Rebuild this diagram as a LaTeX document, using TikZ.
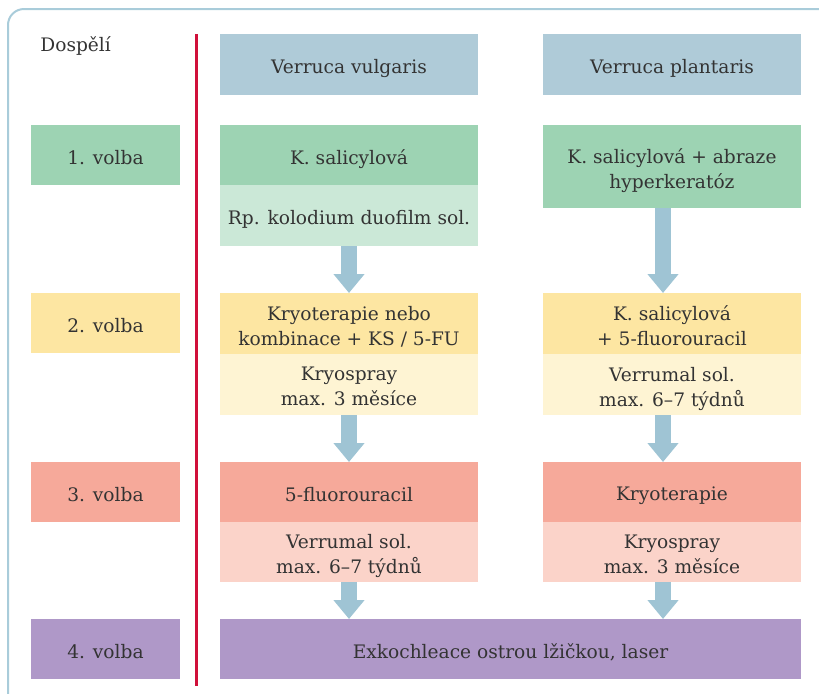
\documentclass[tikz,border=0pt]{standalone}
\usepackage{fontspec}
\setmainfont{DejaVu Serif}
\usetikzlibrary{arrows.meta}
\definecolor{framec}{HTML}{A9CCDA}
\definecolor{redline}{HTML}{D0103A}
\definecolor{hdr}{HTML}{AFCBD8}
\definecolor{arr}{HTML}{9FC4D4}
\definecolor{grn}{HTML}{9DD3B3}
\definecolor{lgrn}{HTML}{CBE8D7}
\definecolor{yel}{HTML}{FDE6A2}
\definecolor{lyel}{HTML}{FEF4D3}
\definecolor{sal}{HTML}{F6A99A}
\definecolor{lsal}{HTML}{FBD3C9}
\definecolor{pur}{HTML}{AF98C8}
\definecolor{txt}{HTML}{333333}
\tikzset{
  tl/.style={inner sep=0pt, align=center, text=txt, text depth=0pt,
    font=\fontsize{9.3}{12.5}\selectfont, yshift=-1pt},
  box/.style={inner sep=0pt, outer sep=0pt, minimum width=129pt, minimum height=30pt},
  lbox/.style={box, minimum width=74.5pt},
  flow/.style={draw=arr, line width=8pt, -{Triangle[width=15pt,length=9.5pt]}}
}
\begin{document}
\begin{tikzpicture}[x=0.5pt,y=-0.5pt]
\useasboundingbox (0,0) rectangle (819,693);
\draw[framec, line width=1pt, rounded corners=8pt] (8,9) rectangle (840,720);
\draw[redline, line width=1.5pt] (196,34) -- (196,686);
\node[anchor=west, inner sep=0pt, text=txt, font=\fontsize{9.3}{12.5}\selectfont] (dosp) at (40,46) {Dospělí};
% left labels
\node[lbox, fill=grn, label={[tl]center:1. volba}] (l1) at (105.5,155) {};
\node[lbox, fill=yel, label={[tl]center:2. volba}] (l2) at (105.5,323) {};
\node[lbox, fill=sal, label={[tl]center:3. volba}] (l3) at (105.5,492) {};
\node[lbox, fill=pur, label={[tl]center:4. volba}] (l4) at (105.5,649) {};
% headers
\node[box, fill=hdr, minimum height=30.5pt, label={[tl]center:Verruca vulgaris}] (h1) at (349,64.5) {};
\node[box, fill=hdr, minimum height=30.5pt, label={[tl]center:Verruca plantaris}] (h2) at (672,64.5) {};
% column 1
\node[box, fill=grn, label={[tl]center:K. salicylová}] (a1) at (349,155) {};
\node[box, fill=lgrn, minimum height=30.5pt, label={[tl]center:Rp. kolodium duofilm sol.}] (a1s) at (349,215.5) {};
\node[box, fill=yel, minimum height=30.5pt, label={[tl]center:{Kryoterapie nebo\\kombinace + KS / 5-FU}}] (a2) at (349,323.5) {};
\node[box, fill=lyel, minimum height=30.5pt, label={[tl]center:{Kryospray\\max. 3 měsíce}}] (a2s) at (349,384.5) {};
\node[box, fill=sal, label={[tl]center:5-fluorouracil}] (a3) at (349,492) {};
\node[box, fill=lsal, label={[tl]center:{Verrumal sol.\\max. 6–7 týdnů}}] (a3s) at (349,552) {};
% column 2
\node[box, fill=grn, minimum height=41.5pt, label={[tl]center:{K. salicylová + abraze\\hyperkeratóz}}] (b1) at (672,166.5) {};
\node[box, fill=yel, minimum height=30.5pt, label={[tl]center:{K. salicylová\\+ 5-fluorouracil}}] (b2) at (672,323.5) {};
\node[box, fill=lyel, minimum height=30.5pt, label={[tl]center:{Verrumal sol.\\max. 6–7 týdnů}}] (b2s) at (672,384.5) {};
\node[box, fill=sal, label={[tl]center:Kryoterapie}] (b3) at (672,492) {};
\node[box, fill=lsal, label={[tl]center:{Kryospray\\max. 3 měsíce}}] (b3s) at (672,552) {};
% bottom
\node[box, fill=pur, minimum width=290.5pt, label={[tl]center:Exkochleace ostrou lžičkou, laser}] (c4) at (510.5,649) {};
% arrows
\draw[flow] (a1s.south) -- (a2.north);
\draw[flow] (a2s.south) -- (a3.north);
\draw[flow] (a3s.south) -- (a3s.south |- c4.north);
\draw[flow] ([xshift=-4.5pt]b1.south) -- ([xshift=-4.5pt]b2.north);
\draw[flow] ([xshift=-4.5pt]b2s.south) -- ([xshift=-4.5pt]b3.north);
\draw[flow] ([xshift=-4.5pt]b3s.south) -- ([xshift=-4.5pt]b3s.south |- c4.north);
\end{tikzpicture}
\end{document}
